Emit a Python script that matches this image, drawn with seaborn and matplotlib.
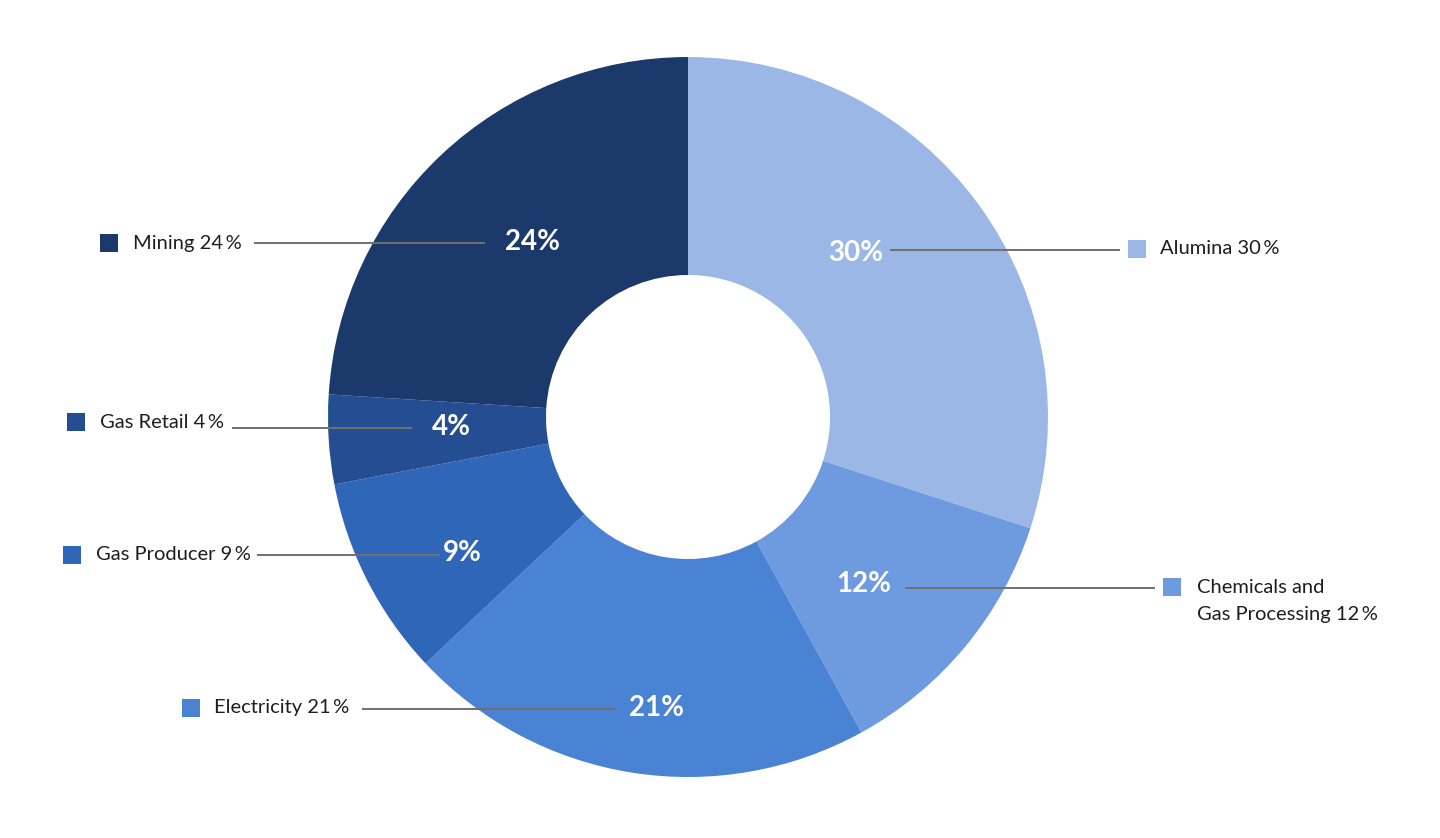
import matplotlib
matplotlib.use("Agg")
import matplotlib.pyplot as plt
import seaborn as sns

# ---- data ----
categories = ["Alumina", "Chemicals and\nGas Processing", "Electricity",
              "Gas Producer", "Gas Retail", "Mining"]
shares = [30, 12, 21, 9, 4, 24]
colors = ["#9BB7E6", "#6E9BDF", "#4A82D4", "#2F66B8", "#254E92", "#1B3A6B"]

# ---- layout (pixel coordinates of the reference, y from top) ----
W, H = 1440, 838
CX, CY, R_OUT, R_IN = 688, 417, 360, 142
inner_label_px = [(856, 253), (864, 584), (657, 708), (462, 553), (451, 427), (533, 242)]
line_px = [(890, 1120, 250), (905, 1155, 588), (362, 615, 709),
           (257, 440, 555), (232, 412, 428), (254, 485, 243)]
marker_px = [(1137, 249), (1172, 587), (191, 708), (72, 555), (76, 422), (109, 243)]
text_px = [(1160, 249), (1197, 601), (214, 708), (96, 555), (100, 422), (133, 243)]


def px(x, y):
    return (x - CX) / R_OUT, (CY - y) / R_OUT


sns.set_theme(style="white")
plt.rcParams["font.family"] = ["Lato", "DejaVu Sans"]

fig = plt.figure(figsize=(W / 100, H / 100), dpi=100)
ax = fig.add_axes([0, 0, 1, 1])

ax.pie(shares, colors=colors, startangle=90, counterclock=False, radius=1.0,
       wedgeprops=dict(width=1 - R_IN / R_OUT, linewidth=0))

ax.set_aspect("equal", adjustable="datalim")
ax.axis("off")

for i, (cat, v) in enumerate(zip(categories, shares)):
    x0, x1, ly = line_px[i]
    (ax0, ay), (ax1, _) = px(x0, ly), px(x1, ly)
    ax.plot([ax0, ax1], [ay, ay], color="#707070", lw=1.4, zorder=3,
            solid_capstyle="butt")
    lx, lyy = px(*inner_label_px[i])
    ax.text(lx, lyy, f"{v}%", color="white", fontsize=20, fontweight="bold",
            ha="center", va="center", zorder=4)
    mx, my = px(*marker_px[i])
    ax.plot(mx, my, marker="s", markersize=13, color=colors[i],
            markeredgewidth=0, zorder=4)
    tx, ty = px(*text_px[i])
    ax.text(tx, ty, f"{cat} {v}\u2009%", color="#1E1E1E", fontsize=14.5,
            ha="left", va="center", linespacing=1.65, zorder=4)

ax.set_xlim(-CX / R_OUT, (W - CX) / R_OUT)
ax.set_ylim((CY - H) / R_OUT, CY / R_OUT)

fig.savefig("out.png", dpi=100, facecolor="white")
